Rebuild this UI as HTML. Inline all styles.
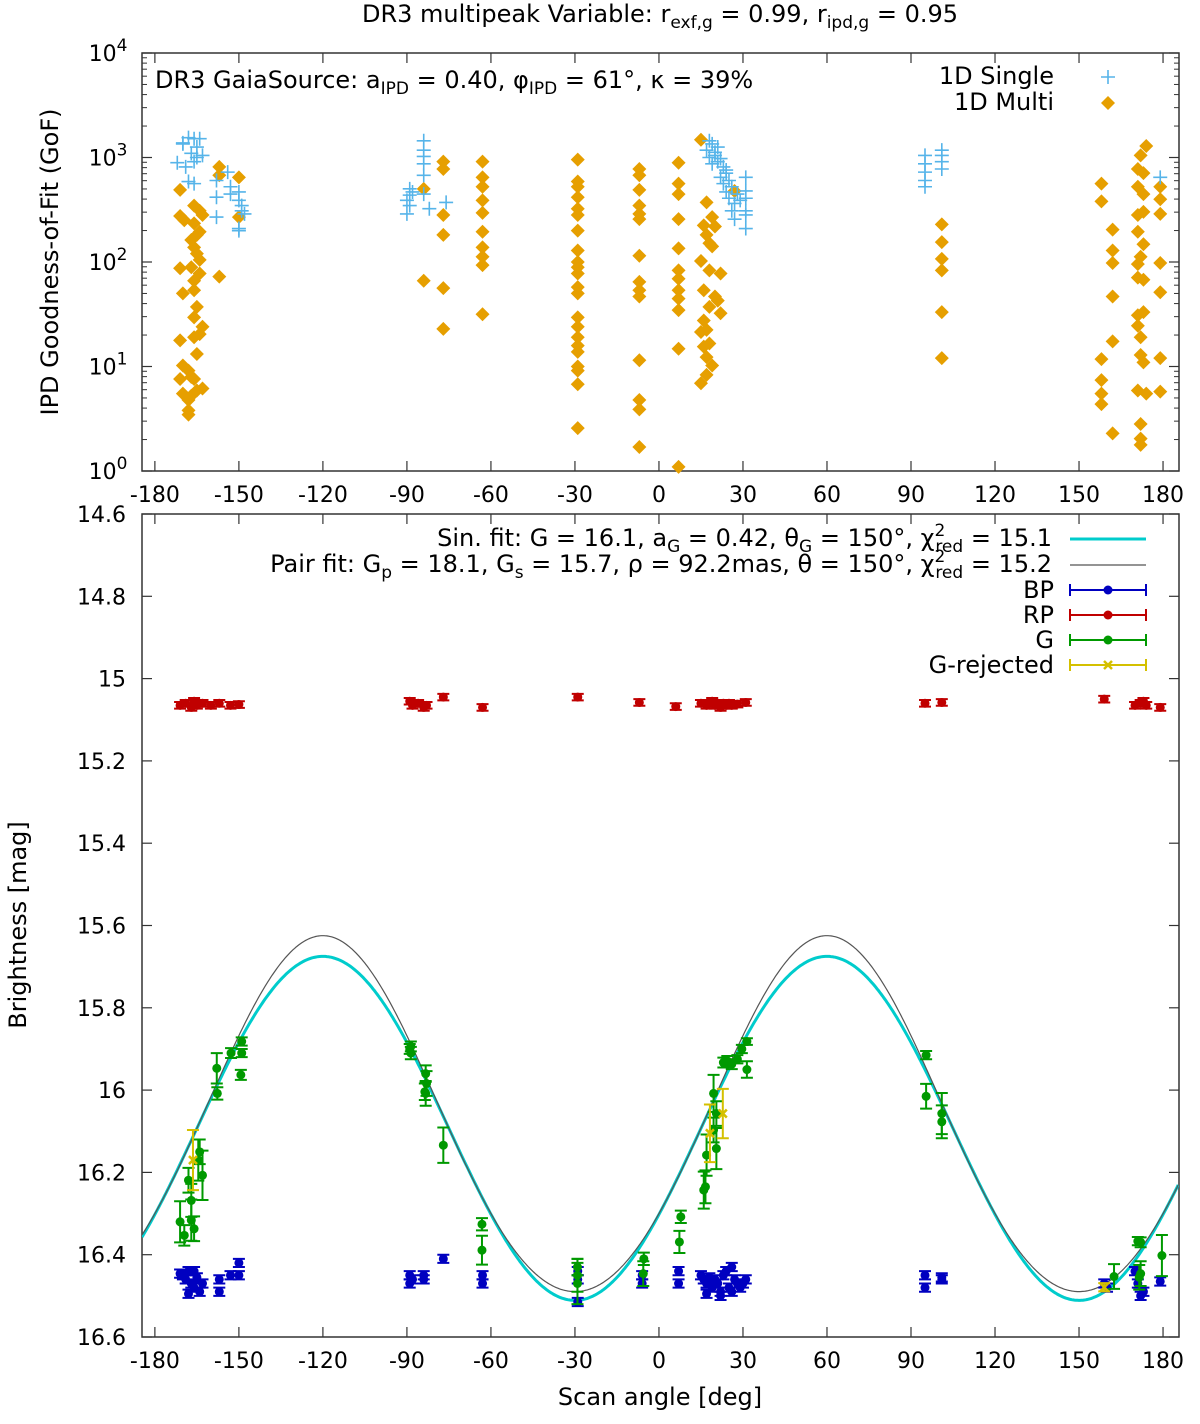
<!DOCTYPE html>
<html><head><meta charset="utf-8"><style>
html,body{margin:0;padding:0;background:#fff;}
svg{display:block;font-family:"DejaVu Sans","Liberation Sans",sans-serif;}
</style></head><body>
<svg id="chart" width="1200" height="1424" viewBox="0 0 1200 1424" xmlns="http://www.w3.org/2000/svg">
<text x="660" y="22" font-size="24" text-anchor="middle">DR3 multipeak Variable: r<tspan font-size="17" dy="6">exf,g</tspan><tspan dy="-6"> = 0.99, r</tspan><tspan font-size="17" dy="6">ipd,g</tspan><tspan dy="-6"> = 0.95</tspan></text>
<g id="topPanel"></g>
<g id="botPanel"></g>
</svg>
<script>
// ---------- data: top panel (scan angle deg, log10 GoF) ----------
const multiDeg=[-171,-171,-169.5,-166,-164,-163,-165,-164,-166,-165,-164,-171,-167,-166,-170,-166,-165,-166,-163,-171,-166,-165,-170,-168,-167,-171,-166,-170,-167,-165,-168,-168,-168,-163,-164,-164,-167,-166,
-157,-157,-157,-150,-150,-84,-84,-77,-77,-77,-77,-77,-77,
-63,-63,-63,-63,-63,-63,-63,-63,-63,-63,
-29,-29,-29,-29,-29,-29,-29,-29,-29,-29,-29,-29,-29,-29,-29,-29,-29,-29,-29,-29,-29,-29,
-7,-7,-7,-7,-7,-7,-7,-7,-7,-7,-7,-7,-7,-7,
7,7,7,7,7,7,7,7,7,7,7,7,
15,17,19,16,20,17,18,19,15,18,22,16,20,21,22,18,16,15,17,18,16,17,19,17,15,27,
101,101,101,101,101,101,
158,158,162,162,162,162,162,158,158,158,158,162,
172,174,171,173,171,173,171,173,171,173,172,171,171,173,173,171,171,172,172,173,171,174,172,172,172,
179,179,179,179,179,179,179];
const multiLog=[2.69,2.44,2.40,2.54,2.49,2.45,2.26,2.29,2.14,2.08,2.02,1.94,1.95,1.82,1.70,1.73,1.57,1.47,1.38,1.25,1.28,1.12,1.01,0.96,0.90,0.88,0.88,0.74,0.72,0.77,0.68,0.58,0.54,0.79,1.31,1.89,2.21,2.37,
2.91,2.83,1.86,2.81,2.43,2.70,1.82,2.96,2.89,2.45,2.26,1.75,1.36,
2.96,2.81,2.72,2.59,2.47,2.29,2.14,2.05,1.97,1.50,
2.98,2.77,2.72,2.62,2.51,2.45,2.30,2.11,2.00,1.95,1.89,1.76,1.70,1.47,1.38,1.28,1.20,1.14,1.00,0.96,0.83,0.41,
2.89,2.83,2.69,2.54,2.46,2.41,2.06,1.81,1.73,1.67,1.06,0.68,0.59,0.23,
2.95,2.75,2.65,2.41,2.13,1.92,1.84,1.73,1.65,1.54,1.17,0.04,
3.17,2.57,2.43,2.35,2.34,2.26,2.18,2.15,2.01,1.92,1.89,1.73,1.67,1.63,1.51,1.57,1.44,1.33,1.35,1.22,1.19,1.09,1.01,0.92,0.84,2.68,
2.36,2.19,2.03,1.92,1.52,1.08,
2.75,2.58,2.31,2.11,1.99,1.67,1.24,1.07,0.87,0.74,0.64,0.36,
3.02,3.11,2.89,2.85,2.72,2.65,2.45,2.48,2.29,2.17,2.05,1.98,1.85,1.83,1.52,1.49,1.39,1.28,1.11,1.04,0.77,0.74,0.45,0.31,0.25,
2.72,2.60,2.46,1.99,1.71,1.08,0.76];
const singleDeg=[-172,-170,-168,-166,-164,-165,-167,-165,-166,-169,-168,-166,-163,-170,
-158,-158,-158,-154,-153,-153,-150,-150,-149,-149,-150,-150,-148,
-89,-89,-90,-89,-90,-88,-84,-84,-84,-84,-84,-82,-84,-76,
17,18,19,20,21,18,22,19,23,21,24,22,25,23,26,24,25,27,26,27,31,31,31,31,31,31,29,28,24,20,
95,95,95,95,95,101,101,101,101,179];
const singleLog=[2.95,3.14,3.19,3.18,3.18,3.10,3.04,3.00,2.96,2.91,2.77,2.75,3.02,3.13,
2.78,2.62,2.43,2.86,2.72,2.65,2.67,2.59,2.54,2.49,2.32,2.30,2.46,
2.70,2.64,2.59,2.54,2.46,2.67,3.16,3.07,3.01,2.94,2.83,2.51,2.65,2.57,
3.07,3.16,3.13,3.05,3.10,3.00,2.99,2.94,2.91,2.96,2.85,2.81,2.78,2.75,2.72,2.67,2.61,2.56,2.49,2.41,2.81,2.68,2.61,2.49,2.45,2.32,2.59,2.65,2.88,3.02,
3.02,2.94,2.86,2.78,2.72,3.07,3.02,2.96,2.89,2.81];
// ---------- data: bottom panel ----------
const gDeg=[-157.9,-157.7,-152.8,-149,-149,-149.3,-171,-169.5,-167,-166,-167,-168,-163,-164,-164.5,
-88.6,-88.6,-89,-83.3,-83,-83.3,-83.6,-77,-63.2,-63.2,-29.1,-29.1,-29.1,-5.4,-5.6,7.8,7.3,
16,16.6,19.5,20.5,17,20.5,19.5,24.4,23,26,28,29.6,31.4,31.4,95.4,95.4,101,101,162.5,171,172,172,171.5,179.6];
const gMag=[15.947,16.008,15.91,15.882,15.91,15.963,16.32,16.353,16.316,16.337,16.268,16.219,16.207,16.15,16.17,
15.894,15.91,15.9,15.96,15.984,16.008,16.004,16.134,16.326,16.389,16.43,16.45,16.47,16.41,16.446,16.308,16.369,
16.243,16.235,16.008,16.142,16.158,16.057,16.097,15.929,15.933,15.937,15.925,15.9,15.882,15.95,15.915,16.015,16.057,16.077,16.453,16.367,16.37,16.446,16.455,16.402];
const gErr=[0.037,0.015,0.012,0.01,0.01,0.012,0.05,0.025,0.05,0.03,0.04,0.03,0.06,0.03,0.05,
0.012,0.015,0.012,0.02,0.03,0.03,0.02,0.043,0.015,0.035,0.02,0.04,0.05,0.015,0.03,0.015,0.027,
0.045,0.04,0.045,0.05,0.05,0.03,0.03,0.012,0.012,0.012,0.01,0.01,0.008,0.02,0.01,0.03,0.05,0.04,0.03,0.01,0.012,0.03,0.03,0.05];
const rejDeg=[-166.4,18.2,22.8,159];
const rejMag=[16.17,16.105,16.057,16.479];
const rejErr=[0.073,0.07,0.06,0.01];
const bpDeg=[-171,-170,-169,-168,-167,-166,-165,-164,-163,-168,-166,-157,-157,-150,-150,-153,-89,-89,-88,-84,-84,-77,-63,-63,-29,-29,-29,-6,-6,7,7,
15,16,17,18,19,20,21,22,23,24,25,26,27,28,29,30,31,17,22,26,95,95,101,101,159,160,170,171,172,173,179];
const bpMag=[16.446,16.45,16.46,16.44,16.47,16.48,16.455,16.49,16.47,16.495,16.44,16.46,16.49,16.42,16.45,16.45,16.45,16.47,16.46,16.45,16.46,16.41,16.45,16.47,16.44,16.46,16.515,16.45,16.47,16.44,16.47,
16.45,16.46,16.47,16.455,16.48,16.46,16.47,16.49,16.45,16.44,16.48,16.49,16.46,16.47,16.48,16.47,16.46,16.495,16.5,16.43,16.45,16.48,16.455,16.46,16.47,16.48,16.44,16.47,16.5,16.49,16.465];
const rpDeg=[-171,-169,-167,-166,-165,-163,-160,-157,-153,-150,-89,-88,-86,-84,-83,-77,-63,-29,-7,6,15,17,18,19,20,21,22,23,24,25,26,28,31,95,101,159,170,172,173,174,179];
const rpMag=[15.065,15.06,15.07,15.055,15.065,15.06,15.065,15.06,15.065,15.063,15.055,15.065,15.06,15.07,15.065,15.045,15.07,15.045,15.058,15.068,15.06,15.065,15.06,15.055,15.065,15.06,15.07,15.06,15.065,15.06,15.065,15.062,15.058,15.06,15.058,15.05,15.065,15.06,15.055,15.065,15.07];
const sinMean=16.093, sinAmp=0.418, sinPhase=150;
const pairA=16.075, pairB=0.4325, pairC=-0.0178;

const NS="http://www.w3.org/2000/svg";
const FS=24, FT=22, FSUB=17;
function mk(parent,tag,attrs){const el=document.createElementNS(NS,tag);for(const k in attrs)el.setAttribute(k,attrs[k]);parent.appendChild(el);return el;}
function tx(parent,attrs,parts){
  const t=mk(parent,'text',attrs);
  parts.forEach(p=>{const s=document.createElementNS(NS,'tspan');
    if(p[1])for(const k in p[1])s.setAttribute(k,p[1][k]);
    s.textContent=p[0];t.appendChild(s);});
  return t;}
const L=142,R=1179,D0=-184.6,D1=185.7;
const X=d=>L+(d-D0)/(D1-D0)*(R-L);
const T0=53,T1=471; const YT=l=>T1-(l/4)*(T1-T0);
const B0=514,B1=1337; const YB=m=>B0+(m-14.6)/2*(B1-B0);
const xticks=[-180,-150,-120,-90,-60,-30,0,30,60,90,120,150,180];

// ===== top panel =====
const topG=document.getElementById('topPanel');
let e;
e=mk(topG,'rect',{x:L,y:T0,width:R-L,height:T1-T0,fill:'none',stroke:'#333','stroke-width':1.5});


xticks.forEach(t=>{
  mk(topG,'line',{x1:X(t),x2:X(t),y1:T1,y2:T1-10,stroke:'#333','stroke-width':1.2});
  mk(topG,'line',{x1:X(t),x2:X(t),y1:T0,y2:T0+10,stroke:'#333','stroke-width':1.2});
  const lab=mk(topG,'text',{x:X(t),y:T1+31,'font-size':FT,'text-anchor':'middle'});lab.textContent=String(t);
  
  
});
for(let dec=0;dec<=4;dec++){
  mk(topG,'line',{x1:L,x2:L+10,y1:YT(dec),y2:YT(dec),stroke:'#333','stroke-width':1.2});
  mk(topG,'line',{x1:R,x2:R-10,y1:YT(dec),y2:YT(dec),stroke:'#333','stroke-width':1.2});
  const lab=tx(topG,{x:L-34,y:YT(dec)+8,'font-size':FT,'text-anchor':'middle'},[['10'],[String(dec),{'font-size':FSUB,dy:-10}]]);
  
  
  if(dec<4)for(let k=2;k<=9;k++){const y=YT(dec+Math.log10(k));
    mk(topG,'line',{x1:L,x2:L+5,y1:y,y2:y,stroke:'#333','stroke-width':1});
    mk(topG,'line',{x1:R,x2:R-5,y1:y,y2:y,stroke:'#333','stroke-width':1});}
}
e=mk(topG,'text',{x:58,y:262,'font-size':FS,'text-anchor':'middle',transform:'rotate(-90 58 262)'});
e.textContent='IPD Goodness-of-Fit (GoF)';


e=tx(topG,{x:155,y:88,'font-size':FS},[['DR3 GaiaSource: a'],['IPD',{'font-size':FSUB,dy:6}],[' = 0.40, φ',{dy:-6}],['IPD',{'font-size':FSUB,dy:6}],[' = 61°, κ = 39%',{dy:-6}]]);


function diamond(g,x,y,c,r){return mk(g,'path',{d:`M${x} ${y-r}L${x+r} ${y}L${x} ${y+r}L${x-r} ${y}Z`,fill:c});}
function plus(g,x,y,c,r){return mk(g,'path',{d:`M${x-r} ${y}H${x+r}M${x} ${y-r}V${y+r}`,stroke:c,'stroke-width':1.6,fill:'none'});}
const gm=mk(topG,'g',{});


multiDeg.forEach((d,i)=>{const p=diamond(gm,X(d),YT(multiLog[i]),'#e69f00',7);

});
const gs=mk(topG,'g',{});


singleDeg.forEach((d,i)=>{const p=plus(gs,X(d),YT(singleLog[i]),'#56b4e9',7);

});
e=mk(topG,'text',{x:1054,y:84,'font-size':FS,'text-anchor':'end'});e.textContent='1D Single';


plus(topG,1108,77,'#56b4e9',7);
e=mk(topG,'text',{x:1054,y:110,'font-size':FS,'text-anchor':'end'});e.textContent='1D Multi';


diamond(topG,1108,103,'#e69f00',7);

// ===== bottom panel =====
const botG=document.getElementById('botPanel');
e=mk(botG,'rect',{x:L,y:B0,width:R-L,height:B1-B0,fill:'none',stroke:'#333','stroke-width':1.5});


xticks.forEach(t=>{
  mk(botG,'line',{x1:X(t),x2:X(t),y1:B1,y2:B1-10,stroke:'#333','stroke-width':1.2});
  mk(botG,'line',{x1:X(t),x2:X(t),y1:B0,y2:B0+10,stroke:'#333','stroke-width':1.2});
  const lab=mk(botG,'text',{x:X(t),y:B1+31,'font-size':FT,'text-anchor':'middle'});lab.textContent=String(t);
  
  
});
const yLabels=['14.6','14.8','15','15.2','15.4','15.6','15.8','16','16.2','16.4','16.6'];
yLabels.forEach(s=>{const y=YB(parseFloat(s));
  mk(botG,'line',{x1:L,x2:L+10,y1:y,y2:y,stroke:'#333','stroke-width':1.2});
  mk(botG,'line',{x1:R,x2:R-10,y1:y,y2:y,stroke:'#333','stroke-width':1.2});
  const lab=mk(botG,'text',{x:126,y:y+8,'font-size':FT,'text-anchor':'end'});lab.textContent=s;
  
  });
e=mk(botG,'text',{x:26,y:925,'font-size':FS,'text-anchor':'middle',transform:'rotate(-90 26 925)'});
e.textContent='Brightness [mag]';


e=mk(botG,'text',{x:660,y:1405,'font-size':FS,'text-anchor':'middle'});
e.textContent='Scan angle [deg]';


// curves
const defs=mk(botG,'defs',{});const cp=mk(defs,'clipPath',{id:'bclip'});mk(cp,'rect',{x:L,y:B0,width:R-L,height:B1-B0});
let ps='',pp='';
for(let d=D0;d<=D1+0.01;d+=0.5){const r=2*(d-sinPhase)*Math.PI/180;
  const ms=sinMean+sinAmp*Math.cos(r); const mp=pairA+pairB*Math.cos(r)+pairC*Math.cos(2*r);
  ps+=(ps?'L':'M')+X(d).toFixed(1)+' '+YB(ms).toFixed(1);
  pp+=(pp?'L':'M')+X(d).toFixed(1)+' '+YB(mp).toFixed(1);}
e=mk(botG,'path',{d:ps,fill:'none',stroke:'#00cccc','stroke-width':3,'clip-path':'url(#bclip)'});


e=mk(botG,'path',{d:pp,fill:'none',stroke:'#555','stroke-width':1.2,'clip-path':'url(#bclip)'});


function errpt(g,x,y,ey,c,kind){
  const y1=YB(y-ey),y2=YB(y+ey),cx=X(x),cy=YB(y);
  mk(g,'path',{d:`M${cx} ${y1}V${y2}M${cx-6} ${y1}H${cx+6}M${cx-6} ${y2}H${cx+6}`,stroke:c,'stroke-width':2,fill:'none'});
  if(kind==='x')mk(g,'path',{d:`M${cx-4} ${cy-4}L${cx+4} ${cy+4}M${cx-4} ${cy+4}L${cx+4} ${cy-4}`,stroke:c,'stroke-width':2.5});
  else mk(g,'circle',{cx:cx,cy:cy,r:4.5,fill:c});
}
const grp=mk(botG,'g',{});


rpDeg.forEach((d,i)=>errpt(grp,d,rpMag[i],0.008,'#c00000'));
const gbp=mk(botG,'g',{});


bpDeg.forEach((d,i)=>errpt(gbp,d,bpMag[i],0.01,'#0000c0'));
const gg=mk(botG,'g',{});


gDeg.forEach((d,i)=>errpt(gg,d,gMag[i],gErr[i],'#009900'));
const gr=mk(botG,'g',{});


rejDeg.forEach((d,i)=>errpt(gr,d,rejMag[i],rejErr[i],'#d4c000','x'));
// legend
e=tx(botG,{x:1052,y:546,'font-size':FS,'text-anchor':'end'},[['Sin. fit: G = 16.1, a'],['G',{'font-size':FSUB,dy:6}],[' = 0.42, θ',{dy:-6}],['G',{'font-size':FSUB,dy:6}],[' = 150°, χ',{dy:-6}],['2',{'font-size':FSUB,dy:-10}],['red',{'font-size':FSUB,dx:-10,dy:16}],[' =  15.1',{dy:-6}]]);


mk(botG,'line',{x1:1070,x2:1146,y1:539,y2:539,stroke:'#00cccc','stroke-width':3});
e=tx(botG,{x:1052,y:572,'font-size':FS,'text-anchor':'end'},[['Pair fit: G'],['p',{'font-size':FSUB,dy:6}],[' = 18.1, G',{dy:-6}],['s',{'font-size':FSUB,dy:6}],[' = 15.7, ρ = 92.2mas, θ = 150°, χ',{dy:-6}],['2',{'font-size':FSUB,dy:-10}],['red',{'font-size':FSUB,dx:-10,dy:16}],[' =  15.2',{dy:-6}]]);


mk(botG,'line',{x1:1070,x2:1146,y1:565,y2:565,stroke:'#555','stroke-width':1.2});
const lg=[['BP','#0000c0',590,'o'],['RP','#c00000',615,'o'],['G','#009900',640,'o'],['G-rejected','#d4c000',665,'x']];
lg.forEach(a=>{const lab=mk(botG,'text',{x:1054,y:a[2]+8,'font-size':FS,'text-anchor':'end'});lab.textContent=a[0];
  
  
  mk(botG,'path',{d:`M1070 ${a[2]}H1146M1070 ${a[2]-6}V${a[2]+6}M1146 ${a[2]-6}V${a[2]+6}`,stroke:a[1],'stroke-width':2,fill:'none'});
  if(a[3]==='x')mk(botG,'path',{d:`M1104 ${a[2]-4}L1112 ${a[2]+4}M1104 ${a[2]+4}L1112 ${a[2]-4}`,stroke:a[1],'stroke-width':2.5});
  else mk(botG,'circle',{cx:1108,cy:a[2],r:4.5,fill:a[1]});});
</script>
</body></html>
